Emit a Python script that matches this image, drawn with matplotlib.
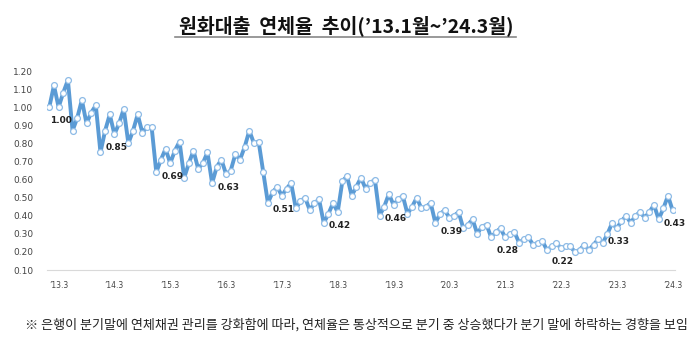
import matplotlib
matplotlib.use("Agg")
import matplotlib.pyplot as plt
from matplotlib.lines import Line2D

plt.rcParams['font.family'] = ['Noto Sans CJK KR', 'DejaVu Sans']

# monthly delinquency rate (%), 2013.1 ~ 2024.3
rates = [
    1.00, 1.12, 1.00, 1.08, 1.15, 0.87, 0.94, 1.04, 0.91, 0.97, 1.01, 0.75,  # 2013
    0.87, 0.96, 0.85, 0.91, 0.99, 0.80, 0.87, 0.96, 0.86, 0.89, 0.89, 0.64,  # 2014
    0.71, 0.77, 0.69, 0.76, 0.81, 0.61, 0.69, 0.76, 0.66, 0.69, 0.75, 0.58,  # 2015
    0.67, 0.71, 0.63, 0.65, 0.74, 0.71, 0.78, 0.87, 0.80, 0.81, 0.64, 0.47,  # 2016
    0.53, 0.56, 0.51, 0.55, 0.58, 0.44, 0.48, 0.50, 0.43, 0.47, 0.49, 0.36,  # 2017
    0.41, 0.47, 0.42, 0.59, 0.62, 0.51, 0.56, 0.61, 0.55, 0.58, 0.60, 0.40,  # 2018
    0.45, 0.52, 0.46, 0.49, 0.51, 0.41, 0.45, 0.50, 0.44, 0.45, 0.47, 0.36,  # 2019
    0.41, 0.43, 0.39, 0.40, 0.42, 0.33, 0.35, 0.38, 0.30, 0.34, 0.35, 0.28,  # 2020
    0.31, 0.33, 0.28, 0.30, 0.31, 0.25, 0.27, 0.28, 0.24, 0.25, 0.26, 0.21,  # 2021
    0.23, 0.25, 0.22, 0.23, 0.23, 0.20, 0.21, 0.24, 0.21, 0.24, 0.27, 0.25,  # 2022
    0.30, 0.36, 0.33, 0.37, 0.40, 0.36, 0.40, 0.42, 0.39, 0.42, 0.46, 0.38,  # 2023
    0.44, 0.51, 0.43,                                                        # 2024
]
tick_labels = ["’13.3", "’14.3", "’15.3", "’16.3", "’17.3", "’18.3",
               "’19.3", "’20.3", "’21.3", "’22.3", "’23.3", "’24.3"]
tick_idx = [2 + 12 * i for i in range(len(tick_labels))]  # March of each year
yticks = [0.10, 0.20, 0.30, 0.40, 0.50, 0.60, 0.70, 0.80, 0.90, 1.00, 1.10, 1.20]

fig = plt.figure(figsize=(7, 3.44), dpi=100)
ax = fig.add_axes([0.0671, 0.2151, 0.8971, 0.5785])

x = list(range(len(rates)))
ax.plot(x, rates, color='#5b9bd5', linewidth=2.8, marker='o', markersize=4.2,
        markerfacecolor='white', markeredgecolor='#8dbbe6', markeredgewidth=0.9,
        zorder=3)

# labels for March values
for i in tick_idx:
    ax.annotate(f"{rates[i]:.2f}", (i, rates[i]), xytext=(1.5, -6.5),
                textcoords='offset points', ha='center', va='top',
                fontsize=6.5, fontweight='bold', color='#222222',
                family=['DejaVu Sans'])

ax.set_xlim(-0.5, len(rates) - 0.5)
ax.set_ylim(0.10, 1.20)
ax.set_yticks(yticks)
ax.set_yticklabels([f"{v:.2f}" for v in yticks], fontsize=6.5, color='#444444',
                   family=['DejaVu Sans'])
ax.set_xticks(tick_idx)
ax.set_xticklabels(tick_labels, fontsize=5.5, color='#444444', family=['DejaVu Sans'])
ax.tick_params(length=0, pad=8)
ax.tick_params(axis='y', pad=10)
for s in ['top', 'right', 'left']:
    ax.spines[s].set_visible(False)
ax.spines['bottom'].set_color('#d9d9d9')

fig.text(0.494, 0.925, "원화대출  연체율  추이(’13.1월~’24.3월)", ha='center', va='center',
         fontsize=14, fontweight='bold', color='#111111')
fig.add_artist(Line2D([0.25, 0.737], [0.893, 0.893], color='#888888', linewidth=1.2))

fig.text(0.036, 0.055, "※ 은행이 분기말에 연체채권 관리를 강화함에 따라, 연체율은 통상적으로 분기 중 상승했다가 분기 말에 하락하는 경향을 보임",
         ha='left', va='center', fontsize=9.4, color='#222222')

fig.savefig("out.png", dpi=100)
